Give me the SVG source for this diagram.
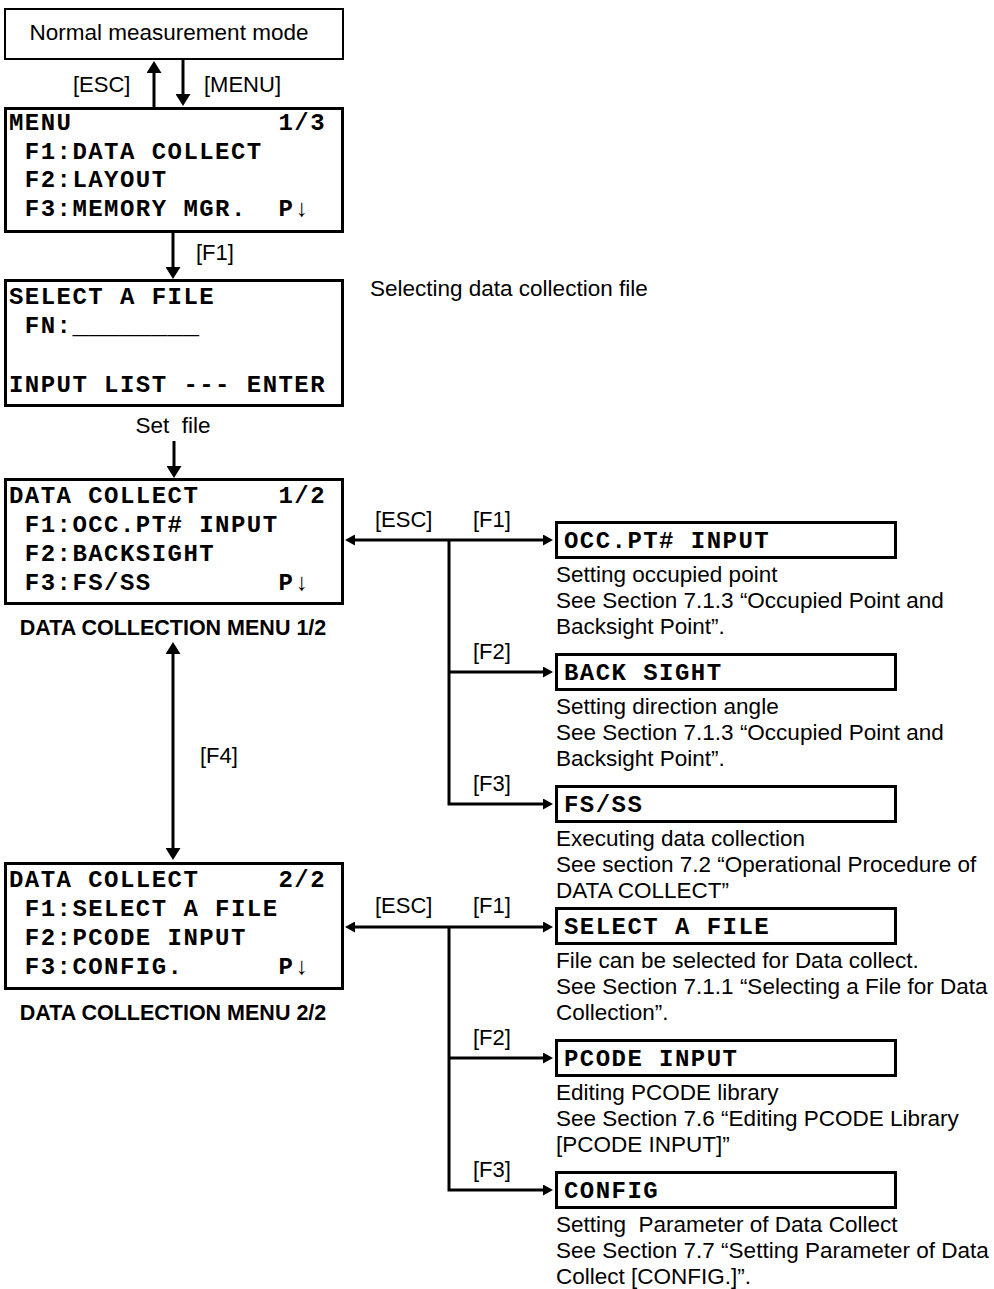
<svg xmlns="http://www.w3.org/2000/svg" width="994" height="1289" viewBox="0 0 994 1289" xml:space="preserve">
<style>
.bg{fill:#ffffff}
.box{fill:#ffffff;stroke:#000;stroke-width:3}
.box2{fill:#ffffff;stroke:#000;stroke-width:2}
.mono{font-family:"Courier New","Liberation Mono",monospace;font-weight:bold;font-size:24px;letter-spacing:1.45px;fill:#000;white-space:pre}
.us{font-size:26.4px;letter-spacing:0px;font-weight:normal}
.lbl{font-family:"Liberation Sans",Arial,sans-serif;font-size:22px;fill:#000;white-space:pre}
.desc{font-family:"Liberation Sans",Arial,sans-serif;font-size:22.5px;fill:#000;white-space:pre}
.cap{font-family:"Liberation Sans",Arial,sans-serif;font-size:21.5px;font-weight:bold;fill:#000;text-anchor:middle}
.ln{fill:none;stroke:#000;stroke-width:3;stroke-linejoin:miter}
</style>
<defs>
<marker id="big" viewBox="0 0 12 15" refX="6" refY="7.5" markerWidth="12" markerHeight="15" orient="auto-start-reverse" markerUnits="userSpaceOnUse"><path d="M0,0 L12,7.5 L0,15 z" fill="#000"/></marker>
<marker id="sm" viewBox="0 0 10 11" refX="5" refY="5.5" markerWidth="10" markerHeight="11" orient="auto-start-reverse" markerUnits="userSpaceOnUse"><path d="M0,0 L10,5.5 L0,11 z" fill="#000"/></marker>
</defs>
<rect class="bg" x="0" y="0" width="994" height="1289"/>

<g id="connectors">
<path class="ln" d="M154,107 V67" marker-end="url(#big)"/>
<path class="ln" d="M183,60 V100" marker-end="url(#big)"/>
<text class="lbl" x="73" y="92">[ESC]</text>
<text class="lbl" x="204" y="92">[MENU]</text>
<path class="ln" d="M173,233 V273" marker-end="url(#big)"/>
<text class="lbl" x="196" y="260">[F1]</text>
<text class="desc" x="173" y="433" text-anchor="middle">Set  file</text>
<path class="ln" d="M174,441 V472" marker-end="url(#big)"/>
<path class="ln" d="M173,648 V854" marker-start="url(#big)" marker-end="url(#big)"/>
<text class="lbl" x="200" y="763">[F4]</text>

<path class="ln" d="M350,540 H548" marker-start="url(#sm)" marker-end="url(#sm)"/>
<path class="ln" d="M449,540 V804 H548" marker-end="url(#sm)"/>
<path class="ln" d="M449,672 H548" marker-end="url(#sm)"/>
<text class="lbl" x="375" y="527">[ESC]</text>
<text class="lbl" x="473" y="527">[F1]</text>
<text class="lbl" x="473" y="659">[F2]</text>
<text class="lbl" x="473" y="791">[F3]</text>

<path class="ln" d="M350,927 H548" marker-start="url(#sm)" marker-end="url(#sm)"/>
<path class="ln" d="M449,927 V1190 H548" marker-end="url(#sm)"/>
<path class="ln" d="M449,1058 H548" marker-end="url(#sm)"/>
<text class="lbl" x="375" y="913">[ESC]</text>
<text class="lbl" x="473" y="913">[F1]</text>
<text class="lbl" x="473" y="1045">[F2]</text>
<text class="lbl" x="473" y="1177">[F3]</text>
</g>

<g id="normal">
<rect class="box2" x="5" y="9" width="338" height="50"/>
<text class="desc" x="169" y="40" text-anchor="middle">Normal measurement mode</text>
</g>

<g id="menu">
<rect class="box" x="5.5" y="108.5" width="337" height="123"/>
<text class="mono" x="9" y="130">MENU             1/3</text>
<text class="mono" x="9" y="159"> F1:DATA COLLECT</text>
<text class="mono" x="9" y="187"> F2:LAYOUT</text>
<text class="mono" x="9" y="216"> F3:MEMORY MGR.  P↓</text>
</g>

<g id="selectfile">
<rect class="box" x="5.5" y="280.5" width="337" height="125"/>
<text class="mono" x="9" y="304">SELECT A FILE</text>
<text class="mono" x="9" y="333"> FN:<tspan class="us">________</tspan></text>
<text class="mono" x="9" y="392">INPUT LIST --- ENTER</text>
<text class="desc" x="370" y="296">Selecting data collection file</text>
</g>

<g id="dc1">
<rect class="box" x="5.5" y="479.5" width="337" height="124"/>
<text class="mono" x="9" y="503">DATA COLLECT     1/2</text>
<text class="mono" x="9" y="532"> F1:OCC.PT# INPUT</text>
<text class="mono" x="9" y="561"> F2:BACKSIGHT</text>
<text class="mono" x="9" y="590"> F3:FS/SS        P↓</text>
<text class="cap" x="173" y="635">DATA COLLECTION MENU 1/2</text>
</g>

<g id="dc2">
<rect class="box" x="5.5" y="863.5" width="337" height="125"/>
<text class="mono" x="9" y="887">DATA COLLECT     2/2</text>
<text class="mono" x="9" y="916"> F1:SELECT A FILE</text>
<text class="mono" x="9" y="945"> F2:PCODE INPUT</text>
<text class="mono" x="9" y="974"> F3:CONFIG.      P↓</text>
<text class="cap" x="173" y="1020">DATA COLLECTION MENU 2/2</text>
</g>

<g id="occ">
<rect class="box" x="556.5" y="522.5" width="339" height="35"/>
<text class="mono" x="564" y="548">OCC.PT# INPUT</text>
<text class="desc" x="556" y="582">Setting occupied point</text>
<text class="desc" x="556" y="608">See Section 7.1.3 “Occupied Point and</text>
<text class="desc" x="556" y="634">Backsight Point”.</text>
</g>

<g id="backsight">
<rect class="box" x="556.5" y="654.5" width="339" height="35"/>
<text class="mono" x="564" y="680">BACK SIGHT</text>
<text class="desc" x="556" y="714">Setting direction angle</text>
<text class="desc" x="556" y="740">See Section 7.1.3 “Occupied Point and</text>
<text class="desc" x="556" y="766">Backsight Point”.</text>
</g>

<g id="fsss">
<rect class="box" x="556.5" y="786.5" width="339" height="35"/>
<text class="mono" x="564" y="812">FS/SS</text>
<text class="desc" x="556" y="846">Executing data collection</text>
<text class="desc" x="556" y="872">See section 7.2 “Operational Procedure of</text>
<text class="desc" x="556" y="898">DATA COLLECT”</text>
</g>

<g id="selfile2">
<rect class="box" x="556.5" y="908.5" width="339" height="35"/>
<text class="mono" x="564" y="934">SELECT A FILE</text>
<text class="desc" x="556" y="968">File can be selected for Data collect.</text>
<text class="desc" x="556" y="994">See Section 7.1.1 “Selecting a File for Data</text>
<text class="desc" x="556" y="1020">Collection”.</text>
</g>

<g id="pcode">
<rect class="box" x="556.5" y="1040.5" width="339" height="35"/>
<text class="mono" x="564" y="1066">PCODE INPUT</text>
<text class="desc" x="556" y="1100">Editing PCODE library</text>
<text class="desc" x="556" y="1126">See Section 7.6 “Editing PCODE Library</text>
<text class="desc" x="556" y="1152">[PCODE INPUT]”</text>
</g>

<g id="config">
<rect class="box" x="556.5" y="1172.5" width="339" height="35"/>
<text class="mono" x="564" y="1198">CONFIG</text>
<text class="desc" x="556" y="1232">Setting  Parameter of Data Collect</text>
<text class="desc" x="556" y="1258">See Section 7.7 “Setting Parameter of Data</text>
<text class="desc" x="556" y="1284">Collect [CONFIG.]”.</text>
</g>
</svg>
